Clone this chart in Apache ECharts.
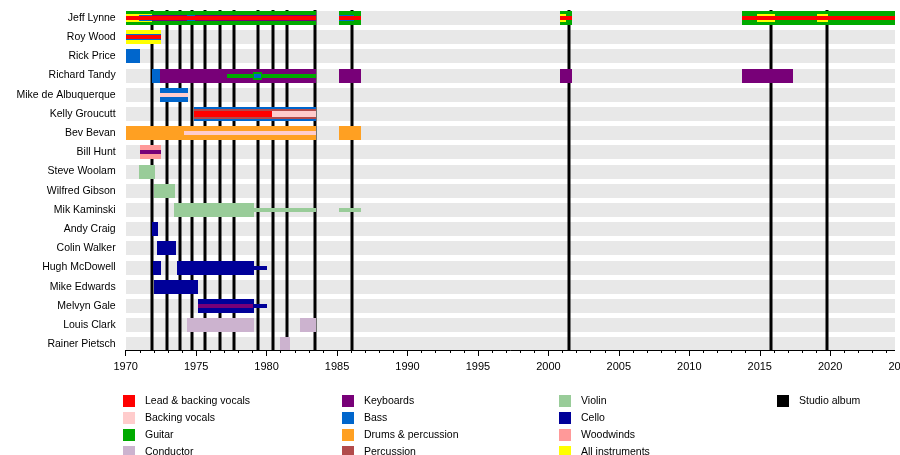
<!DOCTYPE html>
<html>
<head>
<meta charset="utf-8">
<script src="https://cdn.jsdelivr.net/npm/echarts@6/dist/echarts.min.js"></script>
<style>
html,body{margin:0;padding:0;background:#fff;}
#chart{width:900px;height:455px;}
</style>
</head>
<body>
<div id="chart"></div>
<script>
// ---------- data ----------
const members = ['Jeff Lynne','Roy Wood','Rick Price','Richard Tandy','Mike de Albuquerque','Kelly Groucutt','Bev Bevan','Bill Hunt','Steve Woolam','Wilfred Gibson','Mik Kaminski','Andy Craig','Colin Walker','Hugh McDowell','Mike Edwards','Melvyn Gale','Louis Clark','Rainer Pietsch'];

const timelineStart = 1970;
const timelineEnd = 2024.6;

const studioAlbums = [1971.9, 1972.93, 1973.83, 1974.68, 1975.63, 1976.69, 1977.71, 1979.37, 1980.48, 1981.47, 1983.41, 1986.08, 2001.43, 2015.82, 2019.78];

// [member, start, end, layer]
const leadVocals = [
  ['Jeff Lynne',1970,1983.5,4],['Jeff Lynne',1985.14,1986.7,4],['Jeff Lynne',2000.84,2001.64,4],['Jeff Lynne',2013.72,2024.6,4],
  ['Roy Wood',1970,1972.5,4],
  ['Kelly Groucutt',1974.85,1980.4,3]
];
const backingVocals = [
  ['Mike de Albuquerque',1972.43,1974.4,4],
  ['Kelly Groucutt',1980.4,1983.5,3],
  ['Bev Bevan',1974.12,1983.5,4]
];
const guitar = [
  ['Jeff Lynne',1970,1983.5,0],['Jeff Lynne',1985.14,1986.7,0],['Jeff Lynne',2000.84,2001.64,0],['Jeff Lynne',2013.72,2024.6,0],
  ['Richard Tandy',1977.2,1983.5,4],['Richard Tandy',1979.03,1979.67,2]
];
const conductor = [
  ['Louis Clark',1974.35,1979.1,0],['Louis Clark',1982.37,1983.5,0],
  ['Rainer Pietsch',1980.95,1981.66,0]
];
const keyboards = [
  ['Jeff Lynne',1971.9,1983.5,3],
  ['Richard Tandy',1972.43,1983.5,0],['Richard Tandy',1985.14,1986.7,0],['Richard Tandy',2000.84,2001.64,0],['Richard Tandy',2013.72,2017.36,0],
  ['Bill Hunt',1971.0,1972.5,4],
  ['Melvyn Gale',1975.13,1979.05,4]
];
const bass = [
  ['Jeff Lynne',1970.95,1971.9,3],['Jeff Lynne',1974.35,1974.92,3],['Jeff Lynne',1985.14,1986.2,3],
  ['Roy Wood',1970,1972.5,3],
  ['Rick Price',1970,1971.0,0],
  ['Richard Tandy',1971.9,1972.43,0],['Richard Tandy',1979.1,1979.6,4],
  ['Mike de Albuquerque',1972.43,1974.4,0],
  ['Kelly Groucutt',1974.85,1983.5,0]
];
const drums = [['Bev Bevan',1970,1983.5,0],['Bev Bevan',1985.14,1986.7,0]];
const percussion = [['Kelly Groucutt',1974.85,1983.5,1]];
const violin = [
  ['Steve Woolam',1970.95,1972.08,0],
  ['Wilfred Gibson',1972.0,1973.5,0],
  ['Mik Kaminski',1973.43,1979.1,0],['Mik Kaminski',1979.1,1983.5,4],['Mik Kaminski',1985.14,1986.7,4]
];
const cello = [
  ['Andy Craig',1971.85,1972.29,0],
  ['Colin Walker',1972.22,1973.57,0],
  ['Hugh McDowell',1971.94,1972.5,0],['Hugh McDowell',1973.64,1979.1,0],['Hugh McDowell',1979.1,1980.03,4],
  ['Mike Edwards',1972.0,1975.13,0],
  ['Melvyn Gale',1975.13,1979.1,0],['Melvyn Gale',1979.1,1980.03,4]
];
const woodwinds = [['Bill Hunt',1971.0,1972.5,0]];
const allInstruments = [
  ['Jeff Lynne',1970,1971.9,2],['Jeff Lynne',2000.84,2001.28,2],['Jeff Lynne',2014.82,2016.05,2],['Jeff Lynne',2019.08,2019.87,2],
  ['Roy Wood',1970,1972.5,0]
];

// ---------- styling ----------
const LAYER_H = [14, 10, 8, 6, 4];
const BAND_H = 14;
const ROW_PITCH = 19.2;
const AXIS_OFFSET = -4;
const FONT = "'Liberation Sans', Arial, Helvetica, sans-serif";

const roles = [
  {name:'Lead & backing vocals', color:'#FF0000', data:leadVocals},
  {name:'Backing vocals', color:'#FFCCCC', data:backingVocals},
  {name:'Guitar', color:'#00AA00', data:guitar},
  {name:'Conductor', color:'#CCB3CF', data:conductor},
  {name:'Keyboards', color:'#780078', data:keyboards},
  {name:'Bass', color:'#0066CC', data:bass},
  {name:'Drums & percussion', color:'#FFA022', data:drums},
  {name:'Percussion', color:'#B24B4B', data:percussion},
  {name:'Violin', color:'#99CC99', data:violin},
  {name:'Cello', color:'#000099', data:cello},
  {name:'Woodwinds', color:'#FF9999', data:woodwinds},
  {name:'All instruments', color:'#FFFF00', data:allInstruments}
];

function rowOf(name){ return members.indexOf(name); }

function barSeries(role, idx){
  return {
    type:'custom', name:role.name, itemStyle:{color:role.color},
    encode:{x:[1,2], y:0},
    data: role.data.map(d => [rowOf(d[0]), d[1], d[2], d[3]]),
    renderItem: function(params, api){
      const row = api.value(0), layer = api.value(3);
      const p0 = api.coord([api.value(1), row]);
      const p1 = api.coord([api.value(2), row]);
      const h = LAYER_H[layer];
      const x0 = Math.round(p0[0]), x1 = Math.round(p1[0]);
      const y0 = Math.round(p0[1] - h/2);
      return {type:'rect', shape:{x:x0, y:y0, width:x1-x0, height:h},
              style:{fill:role.color}, z2: 10 + layer*100 + idx};
    },
    silent:true
  };
}

const series = [];
// background bands
series.push({
  type:'custom', name:'bands', silent:true,
  encode:{y:0},
  data: members.map((m,i) => [i]),
  renderItem: function(params, api){
    const p0 = api.coord([timelineStart, api.value(0)]);
    const p1 = api.coord([timelineEnd, api.value(0)]);
    const x0 = Math.round(p0[0]), x1 = Math.round(p1[0]);
    const y0 = Math.round(p0[1] - BAND_H/2);
    return {type:'rect', shape:{x:x0, y:y0, width:x1-x0, height:BAND_H}, style:{fill:'#E8E8E8'}, z2:0};
  }
});
// studio album lines
series.push({
  type:'custom', name:'Studio album', silent:true, itemStyle:{color:'#000000'},
  encode:{x:0},
  data: studioAlbums.map(v => [v]),
  renderItem: function(params, api){
    const cs = params.coordSys;
    const x = Math.round(api.coord([api.value(0), 0])[0]);
    const top = Math.round(cs.y) + 2;
    const bottom = Math.round(cs.y + cs.height + AXIS_OFFSET);
    return {type:'rect', shape:{x:x-1.5, y:top, width:3, height:bottom-top}, style:{fill:'#000'}, z2:1};
  }
});
roles.forEach((r,i) => series.push(barSeries(r,i)));
// axis line (ends where the timeline ends)
series.push({
  type:'custom', name:'axisline', silent:true,
  encode:{x:0},
  data:[[timelineStart]],
  renderItem: function(params, api){
    const cs = params.coordSys;
    const x0 = api.coord([timelineStart, 0])[0];
    const x1 = api.coord([timelineEnd, 0])[0];
    const y = Math.round(cs.y + cs.height + AXIS_OFFSET) + 0.5;
    return {type:'line', shape:{x1:x0, y1:y, x2:x1, y2:y}, style:{stroke:'#000', lineWidth:1}, z2:5000};
  }
});

const legendCols = [
  ['Lead & backing vocals','Backing vocals','Guitar','Conductor'],
  ['Keyboards','Bass','Drums & percussion','Percussion'],
  ['Violin','Cello','Woodwinds','All instruments'],
  ['Studio album']
];
const legendLeft = [123, 342, 559, 777];

const option = {
  animation:false,
  textStyle:{fontFamily:FONT},
  grid:{left:125.7, top:18 - ROW_PITCH/2, width:55*14.09, height:18*ROW_PITCH, containLabel:false, outerBoundsMode:'none'},
  xAxis:{
    type:'value', min:1970, max:2025, interval:5, offset:AXIS_OFFSET,
    axisLine:{show:false},
    axisTick:{show:true, length:6, lineStyle:{color:'#000', width:1}},
    minorTick:{show:true, splitNumber:5, length:3, lineStyle:{color:'#000', width:1}},
    splitLine:{show:false}, minorSplitLine:{show:false},
    axisLabel:{color:'#000', fontSize:11, margin:11, fontFamily:FONT, showMaxLabel:true, showMinLabel:true,
               formatter: v => String(v)}
  },
  yAxis:{
    type:'category', data:members, inverse:true,
    axisLine:{show:false}, axisTick:{show:false}, splitLine:{show:false},
    axisLabel:{color:'#000', fontSize:10.5, margin:10, fontFamily:FONT, interval:0, padding:[1,0,0,0]}
  },
  legend: legendCols.map((col,i) => ({
    data: col, left: legendLeft[i], top: 395, height: 80, orient:'vertical', padding:0,
    icon:'rect', itemWidth:12, itemHeight:12, itemGap:5, selectedMode:false,
    textStyle:{color:'#000', fontSize:10.5, fontFamily:FONT, lineHeight:12, padding:[0,0,0,5]}
  })),
  series: series
};

const chart = echarts.init(document.getElementById('chart'), null, {renderer:'canvas'});
chart.setOption(option);
</script>
</body>
</html>
